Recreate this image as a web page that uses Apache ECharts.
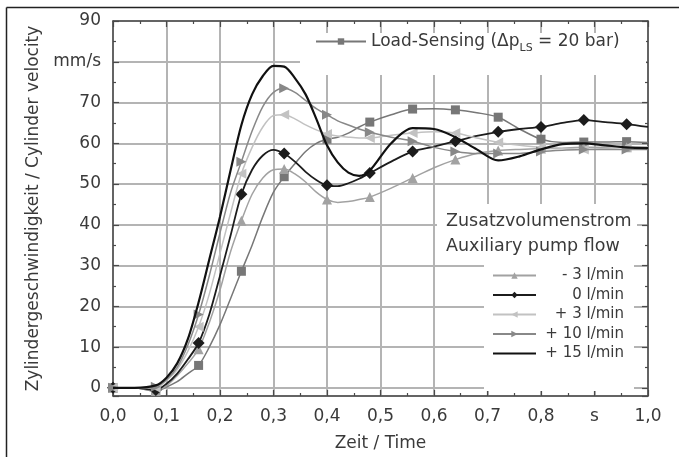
<!DOCTYPE html>
<html><head><meta charset="utf-8">
<script src="https://cdn.jsdelivr.net/npm/echarts@6/dist/echarts.min.js"></script>
<style>html,body{margin:0;padding:0;background:#fff}#c{width:679px;height:457px}</style>
</head><body><div id="c"></div>
<script>
// ---- data ----
const T = [0, 0.04, 0.08, 0.10, 0.12, 0.14, 0.16, 0.18, 0.20, 0.22, 0.24, 0.26, 0.28, 0.30, 0.32, 0.34, 0.36, 0.38, 0.40, 0.42, 0.44, 0.46, 0.48, 0.52, 0.56, 0.60, 0.64, 0.68, 0.72, 0.76, 0.80, 0.84, 0.88, 0.92, 0.96, 1.00];
const markerTimes = [0, 0.08, 0.16, 0.24, 0.32, 0.40, 0.48, 0.56, 0.64, 0.72, 0.80, 0.88, 0.96];
const loadSensing = [0, 0, -0.8, 0.2, 1.5, 3.5, 5.5, 10, 15.5, 22, 28.6, 35, 42, 48, 51.8, 55, 58, 60, 61, 61.5, 62.5, 64, 65.2, 67, 68.4, 68.5, 68.2, 67.5, 66.4, 63.5, 61, 60.2, 60.3, 60.3, 60.4, 60.2];
const minus3 = [0, 0, -0.8, 0.5, 3, 6, 9.5, 16, 24, 33.5, 41, 47.5, 51.5, 53.5, 53.7, 52.5, 50.5, 48, 46.2, 45.5, 45.7, 46.2, 46.8, 49, 51.5, 54, 56, 57.5, 58.2, 58.5, 58.7, 58.8, 59, 59, 59, 59];
const zero = [0, 0, -0.5, 1, 3.5, 7, 11, 18, 27.5, 37.5, 47.5, 53.5, 57, 58.4, 57.5, 55.5, 53, 51, 49.7, 49.5, 50.2, 51.3, 52.7, 55.5, 58, 59.2, 60.5, 61.8, 62.8, 63.5, 64, 65, 65.7, 65.2, 64.7, 64];
const plus3 = [0, 0, 0, 1.8, 4.5, 9, 15, 23, 33, 43, 52.5, 59, 64, 66.8, 67, 66, 64.5, 63.3, 62.3, 61.8, 61.5, 61.3, 61.3, 62, 62.5, 62.8, 62.5, 61.3, 60.2, 59.5, 59, 58.8, 58.5, 58.7, 59, 59];
const plus10 = [0, 0, 0.3, 2, 5, 10.5, 18, 27.5, 38, 48, 55.5, 63, 69, 72.5, 73.5, 72.5, 70.5, 68.5, 67, 65.5, 64.5, 63.5, 62.7, 61.5, 60.5, 59, 58, 57.5, 57.5, 57.5, 58, 58.3, 58.5, 58.5, 58.5, 58.5];
const plus15 = [0, 0, 0.6, 2.5, 6, 12, 21, 31.5, 42, 53.5, 64.5, 72, 76.5, 79, 78.8, 76, 72, 66, 59.5, 55.3, 52.8, 52, 53.3, 60, 63.7, 63.5, 61.5, 58.5, 55.8, 56.8, 58.5, 59.8, 60, 59.5, 59, 58.8];
const seriesNames = ['Load-Sensing (Δp LS = 20 bar)', '- 3 l/min', '0 l/min', '+ 3 l/min', '+ 10 l/min', '+ 15 l/min'];
const xTickLabels = ['0,0', '0,1', '0,2', '0,3', '0,4', '0,5', '0,6', '0,7', '0,8', 's', '1,0'];
const yTickLabels = ['0', '10', '20', '30', '40', '50', '60', '70', 'mm/s', '90'];
const legendTitle = ['Zusatzvolumenstrom', 'Auxiliary pump flow'];

// ---- chart ----
const FONT = 'DejaVu Sans';
const TXT = '#3a3a3a';
const AX = '#4a4a4a';
const valuesList = [loadSensing, minus3, zero, plus3, plus10, plus15];
const styles = [
  {color: '#777777', symbol: 'rect', size: 9, rot: 0, width: 1.5, marks: true},
  {color: '#a2a2a2', symbol: 'triangle', size: 10, rot: 0, width: 1.5, marks: true},
  {color: '#1c1c1c', symbol: 'diamond', size: 12, rot: 0, width: 1.8, marks: true},
  {color: '#c2c2c2', symbol: 'triangle', size: 10, rot: 90, width: 1.5, marks: true},
  {color: '#888888', symbol: 'triangle', size: 10, rot: -90, width: 1.5, marks: true},
  {color: '#111111', symbol: 'none', size: 0, rot: 0, width: 2.2, marks: false}
];
function isMarker(t) { return markerTimes.some(m => Math.abs(m - t) < 1e-9); }
function build(vals, marks) {
  return T.map((t, i) => (marks && isMarker(t)) ? [t, vals[i]] : {value: [t, vals[i]], symbol: 'none'});
}
const series = valuesList.map((vals, k) => {
  const s = {
    name: seriesNames[k], type: 'line', smooth: 0.3,
    symbol: styles[k].symbol, symbolSize: styles[k].size, symbolRotate: styles[k].rot,
    lineStyle: {color: styles[k].color, width: styles[k].width},
    itemStyle: {color: styles[k].color},
    emphasis: {disabled: true}, z: 3 + k,
    data: build(vals, styles[k].marks)
  };
  if (!styles[k].marks) s.showSymbol = false;
  return s;
});

const axisCommonX = {
  type: 'value', min: 0, max: 1, interval: 0.1,
  axisLine: {show: true, onZero: false, lineStyle: {color: AX, width: 1.5}},
  axisTick: {show: true, inside: true, length: 6, lineStyle: {color: AX, width: 1.2}},
  minorTick: {show: true, splitNumber: 2, length: 3, lineStyle: {color: AX, width: 1.2}}
};
const axisCommonY = {
  type: 'value', min: -2, max: 90, splitNumber: 9, minInterval: 10, maxInterval: 10,
  axisLine: {show: true, onZero: false, lineStyle: {color: AX, width: 1.5}},
  axisTick: {show: true, inside: true, length: 6, lineStyle: {color: AX, width: 1.2}},
  minorTick: {show: true, splitNumber: 2, length: 3, lineStyle: {color: AX, width: 1.2}}
};

const legend2Data = seriesNames.slice(1).map((n, i) => i === 4
  ? {name: n, icon: 'path://M0,0L100,0L100,5L0,5Z'} : {name: n});

const option = {
  animation: false,
  backgroundColor: '#ffffff',
  grid: {left: 113, right: 31, top: 21, bottom: 61, containLabel: false},
  xAxis: [
    Object.assign({}, axisCommonX, {
      position: 'bottom',
      splitLine: {show: true, lineStyle: {color: '#b4b4b4', width: 2}},
      axisLabel: {show: true, margin: 12, fontSize: 17, fontFamily: FONT, color: TXT,
        formatter: v => { const i = Math.round(v * 10); return (Math.abs(v * 10 - i) < 1e-6) ? xTickLabels[i] : ''; }},
      name: 'Zeit / Time', nameLocation: 'middle', nameGap: 39,
      nameTextStyle: {fontSize: 17, fontFamily: FONT, color: TXT}
    }),
    Object.assign({}, axisCommonX, {
      position: 'top', splitLine: {show: false}, axisLabel: {show: false}
    })
  ],
  yAxis: [
    Object.assign({}, axisCommonY, {
      position: 'left',
      splitLine: {show: true, lineStyle: {color: '#b4b4b4', width: 2}},
      axisLabel: {show: true, margin: 12, fontSize: 17, fontFamily: FONT, color: TXT,
        formatter: v => { if (v < 0) return ''; const i = Math.round(v / 10); return yTickLabels[i] || ''; }},
      name: 'Zylindergeschwindigkeit / Cylinder velocity', nameLocation: 'middle', nameGap: 64, nameRotate: 90,
      nameTextStyle: {fontSize: 17, fontFamily: FONT, color: TXT}
    }),
    Object.assign({}, axisCommonY, {
      position: 'right', splitLine: {show: false}, axisLabel: {show: false}
    })
  ],
  legend: [
    {
      data: [seriesNames[0]], left: 315, top: 33, padding: 0,
      itemWidth: 50, itemHeight: 8, itemGap: 0, selectedMode: false,
      formatter: () => '{t|Load-Sensing (Δp}{s|LS}{t| = 20 bar)}',
      textStyle: {color: TXT, fontFamily: FONT, fontSize: 17,
        rich: {t: {fontSize: 17, fontFamily: FONT, color: TXT, lineHeight: 24},
               s: {fontSize: 11, fontFamily: FONT, color: TXT, lineHeight: 12, verticalAlign: 'bottom'}}}
    },
    {
      data: legend2Data, orient: 'vertical', left: 492, top: 268, padding: 0,
      itemWidth: 43, itemHeight: 8, itemGap: 4.5, selectedMode: false,
      formatter: n => '{r|' + n + '}',
      textStyle: {color: TXT, fontFamily: FONT, fontSize: 15,
        rich: {r: {fontSize: 15, fontFamily: FONT, color: TXT, width: 83, align: 'right', lineHeight: 18}}}
    }
  ],
  graphic: [
    {type: 'rect', z: 1, shape: {x: 300, y: 33, width: 346, height: 42}, style: {fill: '#ffffff'}},
    {type: 'rect', z: 1, shape: {x: 437, y: 204, width: 200, height: 60}, style: {fill: '#ffffff'}},
    {type: 'rect', z: 1, shape: {x: 484, y: 258, width: 150, height: 133}, style: {fill: '#ffffff'}},
    {type: 'text', z: 2, left: 446, top: 212, style: {text: legendTitle[0], font: '17.5px "DejaVu Sans"', fill: TXT}},
    {type: 'text', z: 2, left: 446, top: 237, style: {text: legendTitle[1], font: '17.5px "DejaVu Sans"', fill: TXT}},
    {type: 'line', z: 10, shape: {x1: 6.5, y1: 7.5, x2: 679, y2: 7.5}, style: {stroke: '#222', lineWidth: 1.5}},
    {type: 'line', z: 10, shape: {x1: 6.5, y1: 7.5, x2: 6.5, y2: 457}, style: {stroke: '#222', lineWidth: 1.5}}
  ],
  series: series
};
const chart = echarts.init(document.getElementById('c'), null, {renderer: 'canvas'});
chart.setOption(option);
</script>
</body></html>
